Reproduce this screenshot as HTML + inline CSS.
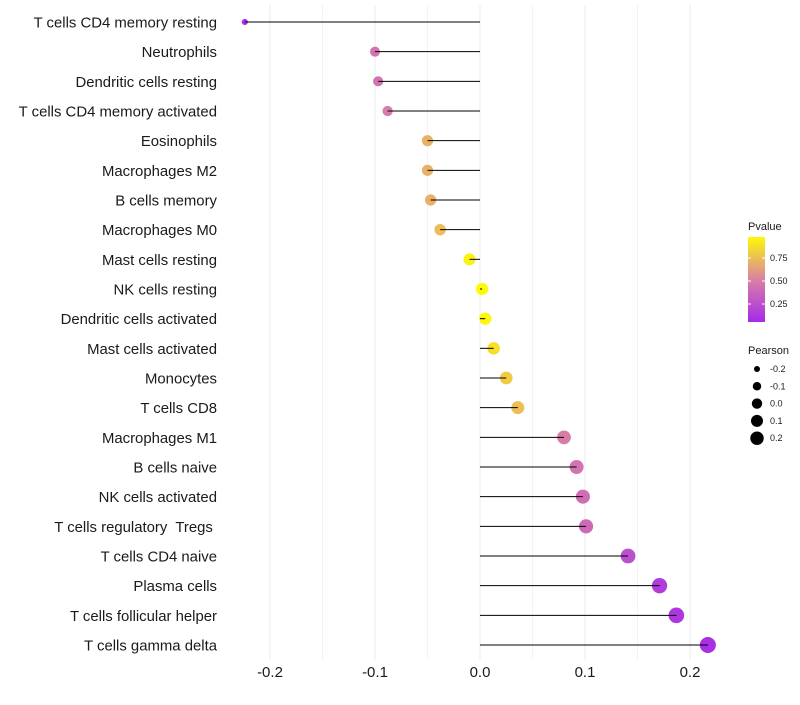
<!DOCTYPE html>
<html><head><meta charset="utf-8"><style>
body{margin:0;background:#fff;font-family:"Liberation Sans",sans-serif}
text{white-space:pre}
</style></head><body>
<svg id="c" width="800" height="700" xmlns="http://www.w3.org/2000/svg"></svg>
<script>
const categories=["T cells CD4 memory resting","Neutrophils","Dendritic cells resting","T cells CD4 memory activated","Eosinophils","Macrophages M2","B cells memory","Macrophages M0","Mast cells resting","NK cells resting","Dendritic cells activated","Mast cells activated","Monocytes","T cells CD8","Macrophages M1","B cells naive","NK cells activated","T cells regulatory  Tregs ","T cells CD4 naive","Plasma cells","T cells follicular helper","T cells gamma delta"];
const pearson=[-0.224,-0.100,-0.097,-0.088,-0.050,-0.050,-0.047,-0.038,-0.010,0.002,0.005,0.013,0.025,0.036,0.080,0.092,0.098,0.101,0.141,0.171,0.187,0.217];
const pvalue=[0.08,0.45,0.45,0.5,0.7,0.7,0.7,0.75,0.95,0.99,0.97,0.88,0.8,0.75,0.5,0.45,0.42,0.4,0.25,0.15,0.12,0.08];
const xTicks=[-0.2,-0.1,0.0,0.1,0.2];
const xTickLabels=["-0.2","-0.1","0.0","0.1","0.2"];
const pTicks=[0.25,0.5,0.75];
const sizeTicks=[-0.2,-0.1,0.0,0.1,0.2];

const svg=document.getElementById('c');const NS="http://www.w3.org/2000/svg";
function mk(t,a,p){const e=document.createElementNS(NS,t);for(const k in a)e.setAttribute(k,a[k]);(p||svg).appendChild(e);return e;}
const x=v=>480+v*1050;
const y=i=>22+i*(623/21);
const r=v=>Math.sqrt(Math.max(3,25+125*(v+0.1)));
function lerp(a,b,t){return a.map((c,i)=>Math.round(c+(b[i]-c)*t));}
function col(p){const s=[[160,32,240],[216,125,170],[255,255,0]];let t=Math.min(1,Math.max(0,p));const c=t<0.5?lerp(s[0],s[1],t/0.5):lerp(s[1],s[2],(t-0.5)/0.5);return `rgb(${c})`;}
const grid=mk('g',{});
for(let v=-0.2;v<=0.2001;v+=0.05){mk('line',{x1:x(v),x2:x(v),y1:5,y2:660,stroke:'#ebebeb','stroke-width':Math.abs(Math.round(v*20))%2===0?1:0.6},grid);}
xTicks.forEach((v,i)=>{const t=mk('text',{x:x(v),y:677,'text-anchor':'middle','font-size':15,fill:'#1a1a1a'});t.textContent=xTickLabels[i];
});
categories.forEach((c,i)=>{
const t=mk('text',{x:217,y:y(i)+5.5,'text-anchor':'end','font-size':14.9,fill:'#1a1a1a'});t.textContent=c;

const pt=mk('circle',{cx:x(pearson[i]),cy:y(i),r:r(pearson[i]),fill:col(pvalue[i])});

const l=mk('line',{x1:x(0),x2:x(pearson[i]),y1:y(i),y2:y(i),stroke:'#000','stroke-width':1});

});
const lg=mk('g',{});
let tt=mk('text',{x:748,y:230,'font-size':11,fill:'#1a1a1a'},lg);tt.textContent='Pvalue';
const defs=mk('defs',{});const gr=mk('linearGradient',{id:'g1',x1:0,y1:1,x2:0,y2:0},defs);
[0,0.25,0.5,0.75,1].forEach(s=>{const p=0.054+s*(0.978-0.054);mk('stop',{offset:s,'stop-color':col(p)},gr);});
mk('rect',{x:748,y:237,width:17,height:85,fill:'url(#g1)'},lg);
const py=p=>327-p*92;
pTicks.forEach(p=>{mk('line',{x1:748,x2:751,y1:py(p),y2:py(p),stroke:'#fff'},lg);mk('line',{x1:762,x2:765,y1:py(p),y2:py(p),stroke:'#fff'},lg);
const t=mk('text',{x:770,y:py(p)+3,'font-size':9,fill:'#1a1a1a'},lg);t.textContent=p.toFixed(2);});
const sg=mk('g',{});
tt=mk('text',{x:748,y:354,'font-size':11,fill:'#1a1a1a'},sg);tt.textContent='Pearson';
sizeTicks.forEach((v,i)=>{const cy=369+i*17.3;mk('circle',{cx:757,cy:cy,r:r(v)*0.85,fill:'#000'},sg);
const t=mk('text',{x:770,y:cy+3,'font-size':9,fill:'#1a1a1a'},sg);t.textContent=v.toFixed(1);});
</script>
</body></html>
